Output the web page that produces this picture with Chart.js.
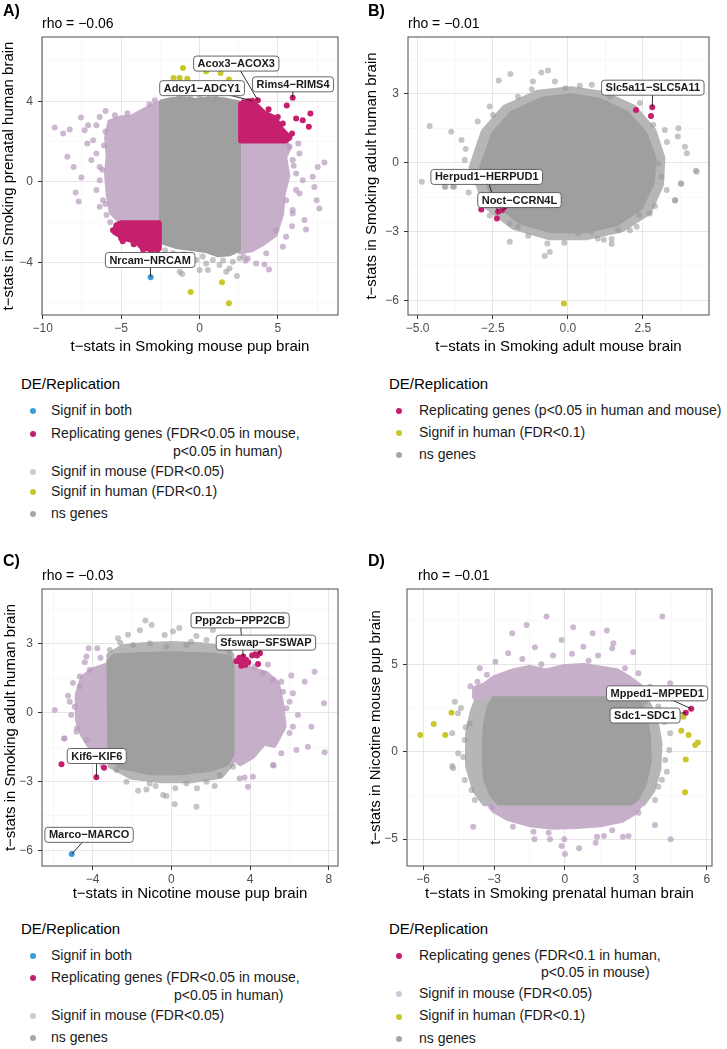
<!DOCTYPE html>
<html>
<head>
<meta charset="utf-8">
<script src="https://cdn.jsdelivr.net/npm/chart.js@4.4.0/dist/chart.umd.min.js"></script>
<style>
  body { margin: 0; width: 727px; height: 1049px; position: relative; overflow: hidden; background: #fff;
         font-family: "Liberation Sans", Arial, Helvetica, sans-serif; color: #000; }
  canvas { position: absolute; }
  .t { position: absolute; white-space: nowrap; }
  .letter { font-size: 16px; line-height: 16px; font-weight: bold; }
  .rho { font-size: 14px; line-height: 14px; }
  .ltitle { font-size: 15px; line-height: 18px; }
  .litem { font-size: 14px; line-height: 16px; color: #1a1a1a; }
  .dot { position: absolute; width: 6px; height: 6px; border-radius: 50%; }
</style>
</head>
<body>
<canvas id="pA" width="345" height="360" style="left:0;top:0"></canvas>
<canvas id="pB" width="365" height="360" style="left:362px;top:0"></canvas>
<canvas id="pC" width="345" height="360" style="left:0;top:545px"></canvas>
<canvas id="pD" width="365" height="360" style="left:362px;top:545px"></canvas>

<div class="t letter" style="left:3px;top:3px">A)</div>
<div class="t rho" style="left:42px;top:16px">rho = −0.06</div>
<div class="t letter" style="left:368px;top:3px">B)</div>
<div class="t rho" style="left:408px;top:16px">rho = −0.01</div>
<div class="t letter" style="left:3px;top:553px">C)</div>
<div class="t rho" style="left:42px;top:568px">rho = −0.03</div>
<div class="t letter" style="left:368px;top:553px">D)</div>
<div class="t rho" style="left:418px;top:568px">rho = −0.01</div>

<script>
// colours
const C_BOTH = '#3d9bd9';
const C_REP = '#c51f6e';
const C_MOUSE = '#c6b0c9';
const C_MOUSE_PT = 'rgba(184,154,190,0.7)';
const C_HUMAN = '#c9c82b';
const C_NS = '#9f9f9f';
const C_NS_LIGHT = '#b6b6b6';
const C_NS_PT = 'rgba(150,150,150,0.55)';
const FONT = '"Liberation Sans", Arial, Helvetica, sans-serif';

// ---------- A: Smoking mouse pup brain vs Smoking prenatal human brain
const aXTicks = [-10, -5, 0, 5];
const aXLabels = ['−10', '−5', '0', '5'];
const aYTicks = [-4, 0, 4];
const aYLabels = ['−4', '0', '4'];
const aNsCloud = [[-2.4,3.95],[-1.8,4.05],[-1.0,4.1],[-0.2,4.0],[0.6,4.1],[1.5,4.05],[2.45,3.9],[2.45,-3.35],[1.9,-3.55],[1.2,-3.6],[0.5,-3.4],[-0.4,-3.3],[-1.4,-3.2],[-2.4,-2.95]];
const aNsPts = [[-1.3,4.2],[0.0,4.22],[1.05,4.15],[-0.6,4.18],[-1.7,-3.55],[-1.27,-4.46],[-1.1,-4.58],[-0.85,-3.8],[-0.53,-4.13],[-0.21,-3.88],[0,-4.38],[0.42,-4.05],[0.53,-4.38],[0.85,-3.88],[1.27,-4.13],[1.7,-4.46],[1.91,-4.3],[2.12,-3.97],[2.38,-4.68],[2.55,-3.8],[-2.2,-3.4],[-1.0,-3.6],[0.2,-3.7],[1.5,-3.9]];
const aMouseCloudL = [[-5.7,2.95],[-5.0,3.15],[-4.3,3.2],[-3.6,3.5],[-3.0,3.75],[-2.6,3.85],[-2.6,-1.9],[-5.1,-1.9],[-5.6,-1.5],[-5.8,-0.6],[-5.9,0.4],[-5.8,1.3],[-5.9,2.2]];
const aMouseCloudR = [[2.6,2.0],[5.2,2.0],[5.7,1.75],[5.4,1.2],[5.6,0.3],[5.3,-0.6],[5.2,-1.6],[4.8,-2.6],[4.0,-3.05],[3.3,-3.35],[2.6,-3.45]];
const aMousePts = [[-9.24,2.7],[-8.7,2.4],[-8.28,2.6],[-7.56,3.19],[-7.33,2.56],[-7.11,2.81],[-6.58,2.81],[-6.37,3.22],[-5.99,3.52],[-6.79,2.07],[-7.16,1.9],[-6.58,1.41],[-6.9,1.08],[-6.37,0.74],[-6.37,0.08],[-6.58,-0.41],[-6.16,-0.91],[-6.37,-1.24],[-5.94,-1.65],[-8.43,1.24],[-8.03,0.74],[-7.54,0.22],[-7.9,-0.53],[-7.71,-0.97],[-3.2,3.85],[-2.85,4.05],[-4.6,3.4],[-5.4,3.3],[-6.0,2.5],[-6.1,1.8],[-6.2,0.6],[-6.0,-1.1],[-5.7,-2.0],
  [7.96,0.96],[7.54,0.74],[7.32,-0.25],[7.47,-0.91],[7.64,-1.32],[6.58,0.08],[6.16,0.41],[5.94,1.08],[6.37,1.41],[5.73,1.74],[5.52,-0.91],[5.94,-1.57],[6.37,-0.58],[7.22,0.25],[6.69,-1.9],[6.79,-2.36],[5.52,-2.73],[5.31,-3.22],[4.25,-3.55],[3.61,-4.05],[4.14,-4.1],[4.43,-4.35],[3.08,-3.8],[2.93,-3.92],[4.89,-2.4],[5.94,-1.4],[6.16,-0.41],[6.0,0.8],[5.9,-2.2],[2.8,-3.7],[6.3,1.9]];
const aRepCloudR = [[2.65,3.85],[3.5,3.85],[4.1,3.4],[4.8,3.15],[5.2,2.6],[5.7,2.2],[5.5,2.05],[2.65,2.05]];
const aRepCloudL = [[-5.0,-2.05],[-2.6,-2.05],[-2.6,-3.3],[-3.6,-3.3],[-4.0,-2.95],[-4.7,-2.8],[-5.4,-2.5],[-5.3,-2.15]];
const aRepPts = [[3.72,4.05],[3.36,4.02],[5.94,4.17],[5.56,3.79],[6.16,3.14],[6.58,3.06],[7.07,3.39],[6.97,2.73],[5.48,2.15],[5.73,2.2],[4.99,3.22],[5.31,2.89],[4.4,3.6],[3.1,4.0],[2.8,3.95],[5.9,2.4],[-5.52,-2.4],[-5.0,-2.8],[-3.6,-3.36],[-4.2,-3.1],[-4.9,-2.95],[-3.1,-3.45],[-2.7,-3.4]];
const aHumanPts = [[-1.66,5.16],[-1.27,5.16],[-0.78,5.12],[-1.06,5.65],[0.42,5.49],[1.34,5.4],[1.87,5.08],[-0.57,-5.47],[1.43,-4.98],[1.87,-6.03]];
const aBothPts = [[-3.12,-4.73]];
const aTags = ['Acox3−ACOX3', 'Adcy1−ADCY1', 'Rims4−RIMS4', 'Nrcam−NRCAM'];
const aTagPts = [[3.72,4.05],[3.36,4.02],[5.94,4.17],[-3.12,-4.73]];

// ---------- B: Smoking adult mouse brain vs Smoking adult human brain
const bXTicks = [-5, -2.5, 0, 2.5];
const bXLabels = ['−5.0', '−2.5', '0.0', '2.5'];
const bYTicks = [-6, -3, 0, 3];
const bYLabels = ['−6', '−3', '0', '3'];
const bNsOuter = [[-3.2,-0.2],[-2.8,1.35],[-2.1,2.4],[-1.0,3.05],[0.1,3.2],[1.2,3.0],[2.2,2.4],[2.85,1.4],[3.15,0.2],[3.1,-0.95],[2.7,-2.15],[1.8,-2.9],[0.6,-3.25],[-0.6,-3.25],[-1.8,-2.8],[-2.7,-1.9]];
const bNsCloud = [[-2.85,-0.2],[-2.45,1.25],[-1.85,2.15],[-0.85,2.75],[0.1,2.9],[1.05,2.7],[1.95,2.15],[2.55,1.25],[2.85,0.2],[2.8,-0.85],[2.4,-1.95],[1.6,-2.65],[0.55,-2.95],[-0.55,-2.95],[-1.6,-2.55],[-2.4,-1.7]];
const bNsPts = [[-4.6,1.6],[-4.86,-0.83],[-4.1,-1.05],[-3.79,-1.05],[-3.88,1.35],[-3.54,0.99],[-3.43,0.12],[-2.6,2.45],[-2.49,2.08],[-1.66,2.88],[-1.91,3.87],[-0.88,3.93],[-0.66,4.02],[-1.16,3.54],[-0.43,3.54],[-0.08,3.25],[-2.3,3.58],[1.68,3.17],[1.4,2.88],[2.84,1.65],[3.23,1.43],[3.68,1.5],[3.66,1.14],[3.9,0.7],[3.96,0.41],[4.26,-0.35],[3.77,-0.9],[3.29,-1.19],[3.57,-1.63],[3.01,-0.03],[3.12,-0.61],[2.73,-2.21],[2.29,-2.79],[2.07,-2.94],[-1.93,-3.45],[-1.32,-3.19],[-0.77,-4.07],[-0.6,-3.89],[-0.12,-3.49],[-0.68,-3.52],[1.2,-3.36],[1.46,-3.55],[1.46,-3.33],[1.68,-2.94],[2.37,-2.28],[2.9,-1.89],[3.57,-1.66],[3.77,-0.93],[4.29,-0.39],[0.34,-3.08],[0.79,-3.01],[-1.66,-2.79],[-1.93,-2.65],[-4.07,-1.05],[-3.82,-1.05],[-3.2,-0.6],[-3.0,1.8],[0.8,3.4],[2.4,2.6],[-2.9,-1.8],[-2.6,-2.3],[-3.4,0.6],[-3.3,-1.3],[3.3,0.9],[-1.2,3.2],[0.4,3.35],[1.0,-3.3]];
const bRepPts = [[2.81,2.42],[2.77,2.04],[2.27,2.3],[-2.88,-2.04],[-2.36,-2.43],[-2.32,-2.14],[-2.19,-2.07],[-2.12,-1.95]];
const bHumanPts = [[-0.13,-6.14]];
const bTags = ['Slc5a11−SLC5A11', 'Herpud1−HERPUD1', 'Noct−CCRN4L'];
const bTagPts = [[2.81,2.42],[-2.32,-2.14],[-2.19,-2.07]];

// ---------- C: Nicotine mouse pup brain vs Smoking adult human brain
const cXTicks = [-4, 0, 4, 8];
const cXLabels = ['−4', '0', '4', '8'];
const cYTicks = [-6, -3, 0, 3];
const cYLabels = ['−6', '−3', '0', '3'];
const cNsOuter = [[-3.15,2.5],[-2.5,2.85],[-1.5,2.95],[0,3.0],[1.5,2.95],[2.6,2.8],[3.05,2.5],[3.05,-2.2],[2.5,-2.75],[1.0,-2.95],[-0.5,-2.95],[-2.0,-2.8],[-3.1,-2.3]];
const cNsCloud = [[-3.15,2.2],[-2.9,2.45],[-2.0,2.5],[0,2.55],[2.0,2.5],[2.9,2.4],[3.05,2.1],[3.05,-1.8],[2.8,-2.2],[2.0,-2.45],[0.5,-2.6],[-1.0,-2.6],[-2.5,-2.35],[-3.1,-1.95]];
const cNsPts = [[-1.32,4.02],[-1.0,3.83],[-2.71,3.25],[-2.2,3.4],[-0.34,3.39],[0.08,3.54],[0.76,2.96],[1.27,3.35],[1.78,3.17],[2.45,2.88],[2.96,2.66],[-0.25,2.88],[-1.09,3.03],[-1.94,2.96],[-3.13,2.74],[2.11,3.61],[-1.6,3.6],[0.4,3.7],[-2.6,3.05],[1.0,3.1],
  [-1.69,-3.41],[-1.27,-3.35],[-0.42,-3.59],[-0.25,-3.64],[0.17,-3.99],[1.27,-4.1],[-2.28,-3.01],[-1.1,-3.09],[0.76,-3.09],[1.78,-3.01],[2.45,-2.72],[-2.79,-2.5],[3.13,-2.36],[3.47,-2.08],[0.2,-3.3],[-0.8,-3.2],[1.3,-3.3],[2.2,-3.2]];
const cMouseCloudL = [[-3.3,2.05],[-4.0,1.85],[-4.5,1.5],[-4.75,0.8],[-4.75,-0.3],[-4.5,-0.95],[-4.1,-1.5],[-3.6,-1.8],[-3.2,-2.05]];
const cMouseCloudR = [[3.1,2.0],[4.0,1.9],[4.8,1.7],[5.35,1.3],[5.55,0.5],[5.7,-0.6],[5.2,-1.4],[4.7,-1.3],[4.1,-1.9],[3.5,-2.2],[3.1,-1.9]];
const cMousePts = [[-4.31,2.45],[-3.76,2.81],[-4.2,2.81],[-5.25,0.74],[-5.16,0.48],[-4.91,0.26],[-5.09,-0.1],[-5.92,0.12],[-5.45,-1.12],[-4.79,-0.68],[-4.65,1.14],[-4.65,1.58],[-4.15,1.86],[-5.42,-1.12],[-4.82,-0.83],[-4.31,-1.19],[-5.0,1.3],[-4.4,2.2],[-3.6,2.4],[-3.5,-2.3],[-3.9,-2.0],
  [4.23,2.01],[4.65,1.72],[5.16,1.43],[5.58,1.35],[6.09,1.62],[6.77,1.35],[7.27,1.79],[5.67,0.92],[6.17,0.85],[6.0,0.48],[5.84,0.19],[6.43,-0.1],[7.11,-0.61],[7.75,0.41],[7.78,-1.73],[6.93,-1.48],[6.35,-1.63],[6.0,-0.88],[5.19,-2.3],[4.14,-2.79],[3.47,-2.87],[3.72,-2.83],[3.89,-3.23],[5.16,-2.28],[5.58,-1.77],[6.17,-0.61],[4.9,2.1],[3.9,2.15]];
const cRepPts = [[3.3,2.25],[3.4,2.3],[3.5,2.2],[3.6,2.35],[3.7,2.15],[3.55,2.05],[3.8,2.3],[3.45,2.4],[3.65,2.45],[3.9,2.2],[3.75,2.08],[3.6,2.25],[4.1,2.5],[4.25,2.55],[4.35,2.5],[4.5,2.6],[4.4,2.13],[-5.58,-2.25],[-3.81,-2.82],[-3.42,-2.4]];
const cBothPts = [[-5.06,-6.17]];
const cTags = ['Ppp2cb−PPP2CB', 'Sfswap−SFSWAP', 'Kif6−KIF6', 'Marco−MARCO'];
const cTagPts = [[3.65,2.45],[4.4,2.55],[-3.81,-2.82],[-5.06,-6.17]];

// ---------- D: Smoking prenatal human brain vs Nicotine mouse pup brain
const dXTicks = [-6, -3, 0, 3, 6];
const dXLabels = ['−6', '−3', '0', '3', '6'];
const dYTicks = [-5, 0, 5];
const dYLabels = ['−5', '0', '5'];
const dNsOuter = [[-3.7,3.0],[3.4,3.0],[3.8,2.0],[4.0,0.5],[3.95,-1.0],[3.7,-2.2],[3.3,-2.95],[-3.4,-2.95],[-3.8,-2.2],[-4.1,-0.8],[-4.1,1.0],[-3.9,2.3]];
const dNsCloud = [[-3.0,3.0],[3.0,3.0],[3.3,2.4],[3.5,1.0],[3.55,-0.5],[3.35,-1.8],[3.05,-2.6],[2.8,-2.9],[-2.8,-2.9],[-3.1,-2.4],[-3.35,-1.5],[-3.4,0],[-3.35,1.5],[-3.2,2.5]];
const dNsPts = [[-4.66,2.86],[-4.52,2.2],[-4.03,1.62],[-4.77,1.05],[-4.24,0.67],[-4.52,-0.09],[-4.77,-0.82],[3.95,2.58],[4.45,1.05],[4.41,0.1],[3.39,2.86],[-4.73,-0.95],[-4.24,-1.62],[-3.95,-2.19],[4.31,-1.14],[3.95,-2.0],[3.81,-2.76],[-3.81,-2.76],[4.24,-0.48],[-4.4,2.5],[4.2,1.7],[-4.3,-0.3],[-4.2,1.4],[4.1,-1.6]];
const dMouseTop = [[-3.8,3.15],[-3.8,3.6],[-3.4,3.8],[-3.0,4.2],[-2.2,4.6],[-1.5,4.8],[-0.8,4.6],[0,4.85],[0.8,4.9],[1.5,4.75],[2.2,4.6],[2.7,4.2],[3.3,3.6],[3.5,3.15]];
const dMouseBot = [[-3.1,-3.0],[3.2,-3.0],[2.9,-3.5],[2.4,-3.9],[1.5,-4.15],[0.5,-4.25],[-0.5,-4.3],[-1.5,-4.15],[-2.4,-3.8],[-3.0,-3.35]];
const dMousePts = [[-0.78,7.73],[-1.62,7.25],[-2.23,6.78],[0.35,7.12],[1.17,6.78],[1.77,6.93],[4.12,7.73],[-1.27,5.98],[0.78,6.01],[2.05,6.2],[2.0,5.92],[2.89,5.69],[-3.6,4.77],[-2.94,5.15],[-2.4,5.63],[-0.14,6.39],[2.54,4.77],[3.11,4.49],[4.45,3.91],[3.6,3.72],[-1.8,5.3],[-0.5,5.5],[0.3,5.6],[1.4,5.5],[-3.3,4.4],[1.0,5.2],[-1.0,5.0],[-4.0,3.75],[-3.7,4.0],
  [-3.88,-4.29],[3.81,-4.2],[3.11,-3.49],[-3.11,-3.18],[-1.29,-5.01],[-0.63,-5.01],[-0.03,-5.01],[-0.14,-5.4],[0.0,-5.86],[0.6,-5.53],[1.3,-5.21],[1.36,-4.86],[1.65,-4.82],[2.45,-4.86],[2.69,-4.82],[4.47,-5.01],[-0.69,-4.64],[-1.33,-4.58],[-2.2,-4.3],[2.0,-4.5]];
const dHumanPts = [[-6.12,0.96],[-5.55,1.59],[-5.06,0.96],[-4.8,2.23],[5.01,2.0],[4.92,1.2],[5.23,0.96],[5.51,0.38],[5.62,0.52],[5.11,-0.44],[5.08,-2.32]];
const dRepPts = [[5.34,2.46],[5.11,2.23]];
const dTags = ['Mpped1−MPPED1', 'Sdc1−SDC1'];
const dTagPts = [[5.34,2.46],[5.11,2.23]];

// label box centres (layout, in data units)
const TAG_BOX = {
  pA: [[2.34,5.87],[0.16,4.65],[5.96,4.84],[-3.15,-3.88]],
  pB: [[2.83,3.27],[-2.7,-0.62],[-1.61,-1.63]],
  pC: [[3.49,4.03],[4.8,3.06],[-3.79,-1.89],[-4.18,-5.33]],
  pD: [[3.9,3.34],[3.39,2.07]]
};

const xy = a => a.map(([x, y]) => ({x, y}));
function cloud(poly, color, order) {
  return {data: xy(poly.concat([poly[0]])), showLine: true, cloud: true, order,
    borderColor: color, backgroundColor: color, borderWidth: 6, borderJoinStyle: 'round',
    borderCapStyle: 'round', pointRadius: 0, pointHoverRadius: 0};
}
function dots(a, color, order) {
  return {data: xy(a), showLine: false, order, pointRadius: 3, pointHoverRadius: 3,
    pointBackgroundColor: color, backgroundColor: color, pointBorderWidth: 0, borderWidth: 0};
}

function axis(lim, major, labels, title, titlePad, tickPad, fit) {
  const step = major[1] - major[0];
  const lines = [];
  for (let v = major[0] - step * 10; v <= lim[1] + 1e-9; v += step / 2) {
    if (v >= lim[0]) lines.push(+v.toFixed(6));
  }
  const isMajor = v => major.some(m => Math.abs(m - v) < 1e-6);
  return {
    type: 'linear', min: lim[0], max: lim[1],
    afterBuildTicks: s => { s.ticks = lines.map(v => ({value: v})); },
    afterFit: fit,
    ticks: {autoSkip: false, maxRotation: 0, minRotation: 0, padding: tickPad, color: '#4d4d4d', font: {size: 12},
      callback: v => { const i = major.findIndex(m => Math.abs(m - v) < 1e-6); return i < 0 ? '' : labels[i]; }},
    grid: {
      color: c => (c.tick && isMajor(c.tick.value)) ? '#e6e6e6' : '#f3f3f3',
      lineWidth: c => (c.tick && isMajor(c.tick.value)) ? 1 : 0.6,
      tickColor: c => (c.tick && isMajor(c.tick.value)) ? '#333' : 'rgba(0,0,0,0)',
      tickLength: 4, tickWidth: 1
    },
    border: {display: false},
    title: {display: true, text: title, color: '#000', font: {size: 15}, padding: titlePad}
  };
}

// fill the closed outlines of the dense clouds
const cloudFill = {
  id: 'cloudFill',
  beforeDatasetDraw(chart, args) {
    const ds = chart.data.datasets[args.index];
    if (!ds.cloud) return;
    const {ctx, chartArea: a} = chart;
    ctx.save();
    ctx.beginPath();
    ctx.rect(a.left, a.top, a.right - a.left, a.bottom - a.top);
    ctx.clip();
    ctx.beginPath();
    args.meta.data.forEach((e, i) => i ? ctx.lineTo(e.x, e.y) : ctx.moveTo(e.x, e.y));
    ctx.closePath();
    ctx.fillStyle = ds.backgroundColor;
    ctx.fill();
    ctx.restore();
  }
};

const frame = {
  id: 'frame',
  afterDatasetsDraw(chart) {
    const {ctx, chartArea: a} = chart;
    ctx.save();
    ctx.strokeStyle = '#4d4d4d';
    ctx.lineWidth = 1;
    ctx.strokeRect(a.left, a.top, a.right - a.left, a.bottom - a.top);
    ctx.restore();
  }
};

const TAGS = {};
const geneTags = {
  id: 'geneTags',
  afterDatasetsDraw(chart) {
    const t = TAGS[chart.canvas.id];
    if (!t) return;
    const {ctx, scales: {x, y}} = chart;
    const box = TAG_BOX[chart.canvas.id];
    ctx.save();
    ctx.font = 'bold 11px ' + FONT;
    t.names.forEach((name, i) => {
      const px = x.getPixelForValue(t.pts[i][0]), py = y.getPixelForValue(t.pts[i][1]);
      const bx = x.getPixelForValue(box[i][0]), by = y.getPixelForValue(box[i][1]);
      ctx.strokeStyle = '#1a1a1a';
      ctx.lineWidth = 0.9;
      ctx.beginPath(); ctx.moveTo(px, py); ctx.lineTo(bx, by); ctx.stroke();
    });
    t.names.forEach((name, i) => {
      const bx = x.getPixelForValue(box[i][0]), by = y.getPixelForValue(box[i][1]);
      const w = ctx.measureText(name).width + 8, h = 15;
      ctx.beginPath();
      ctx.roundRect(bx - w / 2, by - h / 2, w, h, 3);
      ctx.fillStyle = '#fff'; ctx.fill();
      ctx.strokeStyle = '#555'; ctx.lineWidth = 0.9; ctx.stroke();
      ctx.fillStyle = '#1a1a1a';
      ctx.textAlign = 'center'; ctx.textBaseline = 'middle';
      ctx.fillText(name, bx, by + 0.5);
    });
    ctx.restore();
  }
};

Chart.defaults.font.family = FONT;

function panel(id, p) {
  TAGS[id] = {names: p.tags, pts: p.tagPts};
  return new Chart(document.getElementById(id), {
    type: 'scatter',
    data: {datasets: p.datasets},
    options: {
      responsive: false, animation: false, events: [],
      layout: {padding: {top: p.top, right: p.right, left: 0, bottom: 0}},
      scales: {
        x: axis(p.xLim, p.xTicks, p.xLabels, p.xTitle, {top: 0, bottom: p.xTitlePad}, 2, s => { s.height = p.xh; }),
        y: axis(p.yLim, p.yTicks, p.yLabels, p.yTitle, {top: p.yTitlePad, bottom: 0}, 5, s => { s.width = p.yw; })
      },
      plugins: {legend: {display: false}, tooltip: {enabled: false}}
    },
    plugins: [cloudFill, frame, geneTags]
  });
}

panel('pA', {
  xLim: [-10.05, 8.83], yLim: [-6.61, 7.19], xTicks: aXTicks, xLabels: aXLabels, yTicks: aYTicks, yLabels: aYLabels,
  xTitle: 't−stats in Smoking mouse pup brain', yTitle: 't−stats in Smoking prenatal human brain',
  top: 37, right: 7, yw: 42, xh: 45, xTitlePad: 4.5, yTitlePad: 0,
  tags: aTags, tagPts: aTagPts,
  datasets: [
    dots(aBothPts, C_BOTH, 0), dots(aHumanPts, C_HUMAN, 1), dots(aRepPts, C_REP, 2),
    cloud(aRepCloudR, C_REP, 3), cloud(aRepCloudL, C_REP, 3),
    dots(aNsPts, C_NS_PT, 4), cloud(aNsCloud, C_NS, 5),
    dots(aMousePts, C_MOUSE_PT, 6), cloud(aMouseCloudL, C_MOUSE, 7), cloud(aMouseCloudR, C_MOUSE, 7)
  ]
});

panel('pB', {
  xLim: [-5.32, 4.7], yLim: [-6.64, 5.48], xTicks: bXTicks, xLabels: bXLabels, yTicks: bYTicks, yLabels: bYLabels,
  xTitle: 't−stats in Smoking adult mouse brain', yTitle: 't−stats in Smoking adult human brain',
  top: 37, right: 18, yw: 46, xh: 45, xTitlePad: 4.5, yTitlePad: 0.6,
  tags: bTags, tagPts: bTagPts,
  datasets: [
    dots(bHumanPts, C_HUMAN, 1), dots(bRepPts, C_REP, 2),
    cloud(bNsCloud, C_NS, 5), dots(bNsPts, C_NS_PT, 6), cloud(bNsOuter, C_NS_LIGHT, 7)
  ]
});

panel('pC', {
  xLim: [-6.57, 8.46], yLim: [-6.69, 5.40], xTicks: cXTicks, xLabels: cXLabels, yTicks: cYTicks, yLabels: cYLabels,
  xTitle: 't−stats in Nicotine mouse pup brain', yTitle: 't−stats in Smoking adult human brain',
  top: 44, right: 7, yw: 42, xh: 39, xTitlePad: 2.5, yTitlePad: 1.6,
  tags: cTags, tagPts: cTagPts,
  datasets: [
    dots(cBothPts, C_BOTH, 0), dots(cRepPts, C_REP, 2),
    cloud(cNsCloud, C_NS, 4), dots(cMousePts, C_MOUSE_PT, 5),
    cloud(cMouseCloudL, C_MOUSE, 6), cloud(cMouseCloudR, C_MOUSE, 6),
    dots(cNsPts, C_NS_PT, 7), cloud(cNsOuter, C_NS_LIGHT, 8)
  ]
});

panel('pD', {
  xLim: [-6.68, 6.22], yLim: [-6.54, 9.31], xTicks: dXTicks, xLabels: dXLabels, yTicks: dYTicks, yLabels: dYLabels,
  xTitle: 't−stats in Smoking prenatal human brain', yTitle: 't−stats in Nicotine mouse pup brain',
  top: 44, right: 15, yw: 45, xh: 39, xTitlePad: 2.5, yTitlePad: 5.1,
  tags: dTags, tagPts: dTagPts,
  datasets: [
    dots(dRepPts, C_REP, 0), dots(dHumanPts, C_HUMAN, 1),
    cloud(dNsCloud, C_NS, 4), dots(dMousePts, C_MOUSE_PT, 5),
    cloud(dMouseTop, C_MOUSE, 6), cloud(dMouseBot, C_MOUSE, 6),
    dots(dNsPts, C_NS_PT, 7), cloud(dNsOuter, C_NS_LIGHT, 8)
  ]
});

// legends (HTML, positions in page pixels)
const L_BOTH = ['Signif in both', C_BOTH];
const L_MOUSE = ['Signif in mouse (FDR<0.05)', '#d5c4d8'];
const L_HUMAN = ['Signif in human (FDR<0.1)', C_HUMAN];
const L_NS = ['ns genes', '#a6a6a6'];
const legends = [
  {x: 21, dot: 32.5, text: 51, title: 385, rows: [
    [411, L_BOTH], [434, ['Replicating genes (FDR<0.05 in mouse,', C_REP]], [452, ['p<0.05 in human)', null], 173],
    [472, L_MOUSE], [492, L_HUMAN], [514, L_NS]]},
  {x: 389, dot: 399, text: 419, title: 385, rows: [
    [411, ['Replicating genes (p<0.05 in human and mouse)', C_REP]], [433, L_HUMAN], [455, L_NS]]},
  {x: 21, dot: 32.5, text: 51, title: 930, rows: [
    [956, L_BOTH], [978, ['Replicating genes (FDR<0.05 in mouse,', C_REP]], [996, ['p<0.05 in human)', null], 174],
    [1016, L_MOUSE], [1038, L_NS]]},
  {x: 389, dot: 399, text: 419, title: 930, rows: [
    [956, ['Replicating genes (FDR<0.1 in human,', C_REP]], [973.5, ['p<0.05 in mouse)', null], 541],
    [994, L_MOUSE], [1016.5, L_HUMAN], [1039, L_NS]]}
];
legends.forEach(lg => {
  const t = document.createElement('div');
  t.className = 't ltitle';
  t.style.left = lg.x + 'px';
  t.style.top = (lg.title - 10.4) + 'px';
  t.textContent = 'DE/Replication';
  document.body.appendChild(t);
  lg.rows.forEach(([cy, [label, color], left]) => {
    const d = document.createElement('div');
    d.className = 't litem';
    d.style.left = (left || lg.text) + 'px';
    d.style.top = (cy - 9.3) + 'px';
    d.textContent = label;
    document.body.appendChild(d);
    if (color) {
      const s = document.createElement('div');
      s.className = 'dot';
      s.style.left = (lg.dot - 3) + 'px';
      s.style.top = (cy - 3) + 'px';
      s.style.background = color;
      document.body.appendChild(s);
    }
  });
});
</script>
</body>
</html>
